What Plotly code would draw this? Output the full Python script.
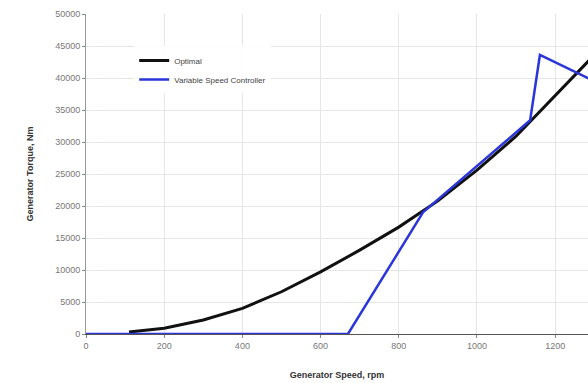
import plotly.graph_objects as go

# Optimal torque curve
opt_speed = [110, 200, 300, 400, 500, 600, 700, 800, 900, 1000, 1100, 1200, 1300]
opt_torque = [300, 900, 2200, 4000, 6600, 9700, 13100, 16700, 20800, 25600, 30900, 37300, 43600]

# Variable speed controller
vsc_speed = [0, 670, 862, 1136, 1161, 1290]
vsc_torque = [0, 0, 19000, 33400, 43600, 39800]

x_ticks = [0, 200, 400, 600, 800, 1000, 1200]
y_ticks = [0, 5000, 10000, 15000, 20000, 25000, 30000, 35000, 40000, 45000, 50000]

fig = go.Figure()
fig.add_trace(go.Scatter(x=opt_speed, y=opt_torque, mode="lines", name="Optimal",
                         line=dict(color="#111111", width=3)))
fig.add_trace(go.Scatter(x=vsc_speed, y=vsc_torque, mode="lines", name="Variable Speed Controller",
                         line=dict(color="#2a36d9", width=2.5)))

fig.update_layout(
    width=588, height=383,
    margin=dict(l=86, r=0, t=14, b=49),
    paper_bgcolor="white", plot_bgcolor="white",
    font=dict(family="Liberation Sans, Arial, sans-serif", color="#555555", size=9),
    legend=dict(x=0.096, y=0.9, xanchor="left", yanchor="top",
                bgcolor="rgba(255,255,255,0.9)", font=dict(size=8, color="#444444"),
                itemwidth=30, tracegroupgap=2),
    xaxis=dict(range=[0, 1284], tickvals=x_ticks, tickformat="d", showgrid=True, gridcolor="#e6e6e6",
               showline=True, linecolor="#555555", linewidth=1, ticks="outside",
               ticklen=3, tickcolor="#888888", zeroline=False,
               tickfont=dict(size=9, color="#777777"),
               title=dict(text="<b>Generator Speed, rpm</b>", font=dict(size=9, color="#333333"),
                          standoff=21)),
    yaxis=dict(range=[0, 50000], tickvals=y_ticks, tickformat="d", showgrid=True, gridcolor="#e6e6e6",
               showline=True, linecolor="#999999", linewidth=1, ticks="outside",
               ticklen=3, tickcolor="#888888", zeroline=False,
               tickfont=dict(size=9, color="#777777"),
               title=dict(text="<b>Generator Torque, Nm</b>", font=dict(size=9, color="#333333"),
                          standoff=20)),
)

fig.write_html("out.html", config={"displayModeBar": False},
               post_script="document.body.style.margin='0';document.body.style.overflow='hidden';")
